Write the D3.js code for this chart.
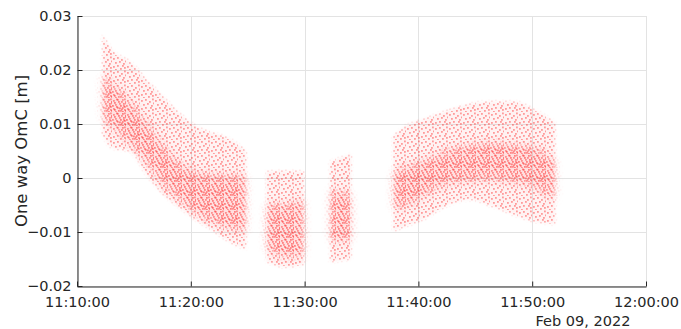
<!DOCTYPE html>
<html>
<head>
<meta charset="utf-8">
<script src="https://cdn.jsdelivr.net/npm/d3@7"></script>
<style>
  body { margin: 0; background: #fff; }
  svg text { font-family: "DejaVu Sans", sans-serif; fill: #262626; }
</style>
</head>
<body>
<div id="container"></div>
<script>
const width = 681;
const height = 329;
const margin = { top: 16, right: 35, bottom: 43, left: 77 };

// ---------------------------- DATA ---------------------------- //
// clusters of residuals, read off as envelopes (outer spread + dense core)
const seg1Time = ["11:12:15", "11:13:10", "11:14:40", "11:16:10", "11:17:35", "11:19:05", "11:20:30", "11:22:00", "11:23:25", "11:24:50"];
const seg1Upper = [0.0265, 0.0235, 0.0215, 0.018, 0.015, 0.0118, 0.0095, 0.0083, 0.0072, 0.005];
const seg1Lower = [0.008, 0.0055, 0.005, 0.0005, -0.003, -0.0055, -0.0078, -0.0098, -0.0118, -0.0132];
const seg1CoreUpper = [0.019, 0.0172, 0.014, 0.0098, 0.0058, 0.0025, 0.001, 0.0005, 0.0004, 0.0002];
const seg1CoreLower = [0.0115, 0.0095, 0.0065, 0.003, -0.0012, -0.0042, -0.0065, -0.0082, -0.0092, -0.0098];

const seg2Time = ["11:26:40", "11:28:20", "11:29:55"];
const seg2Upper = [0.0012, 0.0013, 0.0012];
const seg2Lower = [-0.0155, -0.0165, -0.016];
const seg2CoreUpper = [-0.005, -0.005, -0.004];
const seg2CoreLower = [-0.013, -0.0145, -0.0145];

const seg3Time = ["11:32:15", "11:34:05"];
const seg3Upper = [0.003, 0.0044];
const seg3Lower = [-0.0155, -0.015];
const seg3CoreUpper = [-0.0025, -0.003];
const seg3CoreLower = [-0.0115, -0.0115];

const seg4Time = ["11:37:48", "11:39:00", "11:40:30", "11:42:30", "11:44:36", "11:46:24", "11:48:24", "11:50:06", "11:52:00"];
const seg4Upper = [0.0078, 0.0097, 0.0109, 0.0124, 0.0137, 0.0141, 0.0141, 0.0127, 0.0103];
const seg4Lower = [-0.0098, -0.0088, -0.0076, -0.0051, -0.004, -0.0052, -0.0068, -0.008, -0.0085];
const seg4CoreUpper = [0.001, 0.002, 0.003, 0.005, 0.006, 0.0065, 0.006, 0.0055, 0.003];
const seg4CoreLower = [-0.0055, -0.005, -0.003, -0.001, -0.0005, -0.0002, -0.0008, -0.0015, -0.004];

const yTicks = [-0.02, -0.01, 0, 0.01, 0.02, 0.03];
const xTickLabels = ["11:10:00", "11:20:00", "11:30:00", "11:40:00", "11:50:00", "12:00:00"];
const dayLabel = "Feb 09, 2022";
const yLabel = "One way OmC [m]";

const parseTime = s => {
  const p = s.split(":").map(Number);
  return new Date(2022, 1, 9, p[0], p[1], p[2]);
};

function buildSeg(times, upper, lower, coreUp, coreLo) {
  return times.map((t, i) => ({
    date: parseTime(t), upper: upper[i], lower: lower[i], coreUp: coreUp[i], coreLo: coreLo[i]
  }));
}

const segments = [
  buildSeg(seg1Time, seg1Upper, seg1Lower, seg1CoreUpper, seg1CoreLower),
  buildSeg(seg2Time, seg2Upper, seg2Lower, seg2CoreUpper, seg2CoreLower),
  buildSeg(seg3Time, seg3Upper, seg3Lower, seg3CoreUpper, seg3CoreLower),
  buildSeg(seg4Time, seg4Upper, seg4Lower, seg4CoreUpper, seg4CoreLower)
];

const svg = d3.select("#container").append("svg")
  .attr("width", width)
  .attr("height", height);

// ---------------------------- SCALES ---------------------------- //
const xScale = d3.scaleTime()
  .domain([parseTime(xTickLabels[0]), parseTime(xTickLabels[xTickLabels.length - 1])])
  .range([margin.left, width - margin.right]);
const yScale = d3.scaleLinear()
  .domain([-0.02, 0.03])
  .range([height - margin.bottom, margin.top]);

// ---------------------------- PATTERNS ---------------------------- //
const defs = svg.append("defs");

function dotPattern(id, size, dots, bg, dotFill) {
  const p = defs.append("pattern")
    .attr("id", id).attr("patternUnits", "userSpaceOnUse")
    .attr("width", size).attr("height", size);
  p.append("rect").attr("width", size).attr("height", size).attr("fill", bg);
  dots.forEach(d => {
    p.append("rect").attr("x", d[0]).attr("y", d[1]).attr("width", 1.8).attr("height", 1.8)
      .attr("fill", dotFill);
  });
}
dotPattern("sparse", 14,
  [[1, 2], [5, 1], [9, 3], [12, 0.5], [3, 6], [7, 5], [11, 7], [13, 4.5], [1, 10], [5, 9], [8, 12], [12, 11], [3, 13], [10, 9]],
  "rgba(255,0,0,0.05)", "rgba(255,0,0,0.36)");
dotPattern("dense", 14,
  [[2, 4], [6, 3], [10, 1], [13, 3], [0, 7], [4, 8], [8, 7], [12, 8], [2, 11], [6, 12], [10, 13], [13, 12], [7, 9.5], [4, 0.5], [11, 5], [9, 10.5]],
  "rgba(255,0,0,0.08)", "rgba(255,0,0,0.42)");

function blurFilter(id, sd) {
  defs.append("filter").attr("id", id)
    .attr("x", "-30%").attr("y", "-30%").attr("width", "160%").attr("height", "160%")
    .append("feGaussianBlur").attr("stdDeviation", sd);
}
blurFilter("blurOuter", 1.5);
blurFilter("blurCore", 4.5);

// ---------------------------- GRID ---------------------------- //
const grid = svg.append("g").attr("stroke", "#e3e3e3").attr("stroke-width", 1);
xTickLabels.forEach(t => {
  const x = Math.round(xScale(parseTime(t))) + 0.5;
  grid.append("line").attr("x1", x).attr("x2", x).attr("y1", margin.top).attr("y2", height - margin.bottom);
});
yTicks.forEach(v => {
  const y = Math.round(yScale(v)) + 0.5;
  grid.append("line").attr("x1", margin.left).attr("x2", width - margin.right).attr("y1", y).attr("y2", y);
});

// ---------------------------- CLUSTERS ---------------------------- //
const outerArea = d3.area()
  .curve(d3.curveMonotoneX)
  .x(d => xScale(d.date)).y0(d => yScale(d.lower)).y1(d => yScale(d.upper));
const coreArea = d3.area()
  .curve(d3.curveMonotoneX)
  .x(d => xScale(d.date)).y0(d => yScale(d.coreLo)).y1(d => yScale(d.coreUp));

function maskFrom(id, area, filterId) {
  const m = defs.append("mask").attr("id", id)
    .attr("maskUnits", "userSpaceOnUse")
    .attr("x", 0).attr("y", 0).attr("width", width).attr("height", height);
  m.append("g").attr("filter", "url(#" + filterId + ")")
    .selectAll("path").data(segments).enter().append("path")
    .attr("d", area).attr("fill", "#fff");
}
maskFrom("outerMask", outerArea, "blurOuter");
maskFrom("coreMask", coreArea, "blurCore");

svg.append("rect")
  .attr("x", margin.left).attr("y", margin.top)
  .attr("width", width - margin.left - margin.right)
  .attr("height", height - margin.top - margin.bottom)
  .attr("fill", "url(#sparse)")
  .attr("mask", "url(#outerMask)");
svg.append("rect")
  .attr("x", margin.left).attr("y", margin.top)
  .attr("width", width - margin.left - margin.right)
  .attr("height", height - margin.top - margin.bottom)
  .attr("fill", "url(#dense)")
  .attr("mask", "url(#coreMask)");

// ---------------------------- AXES ---------------------------- //
const xaxis = d3.axisBottom(xScale)
  .tickValues(xTickLabels.map(parseTime))
  .tickFormat(d3.timeFormat("%H:%M:%S"))
  .tickSizeInner(-5).tickSizeOuter(0).tickPadding(10);
const yaxis = d3.axisLeft(yScale)
  .tickValues(yTicks)
  .tickFormat(d => d === 0 ? "0" : d3.format(".2f")(d))
  .tickSizeInner(-5).tickSizeOuter(0).tickPadding(6);

const gx = svg.append("g")
  .attr("transform", "translate(0," + (height - margin.bottom + 0.5) + ")")
  .call(xaxis);
const gy = svg.append("g")
  .attr("transform", "translate(" + (margin.left + 0.5) + ",0)")
  .call(yaxis);

[gx, gy].forEach(g => {
  g.select(".domain").attr("stroke", "#262626");
  g.selectAll(".tick line").attr("stroke", "#262626");
  g.selectAll(".tick text").attr("font-size", 14.5).attr("fill", "#262626")
    .attr("font-family", "DejaVu Sans, sans-serif");
});

svg.append("text")
  .attr("x", 583).attr("y", 326)
  .attr("text-anchor", "middle")
  .attr("font-size", 14.5)
  .text(dayLabel);

svg.append("text")
  .attr("transform", "translate(27," + ((margin.top + height - margin.bottom) / 2) + ") rotate(-90)")
  .attr("text-anchor", "middle")
  .attr("font-size", 16.5)
  .text(yLabel);
</script>
</body>
</html>
